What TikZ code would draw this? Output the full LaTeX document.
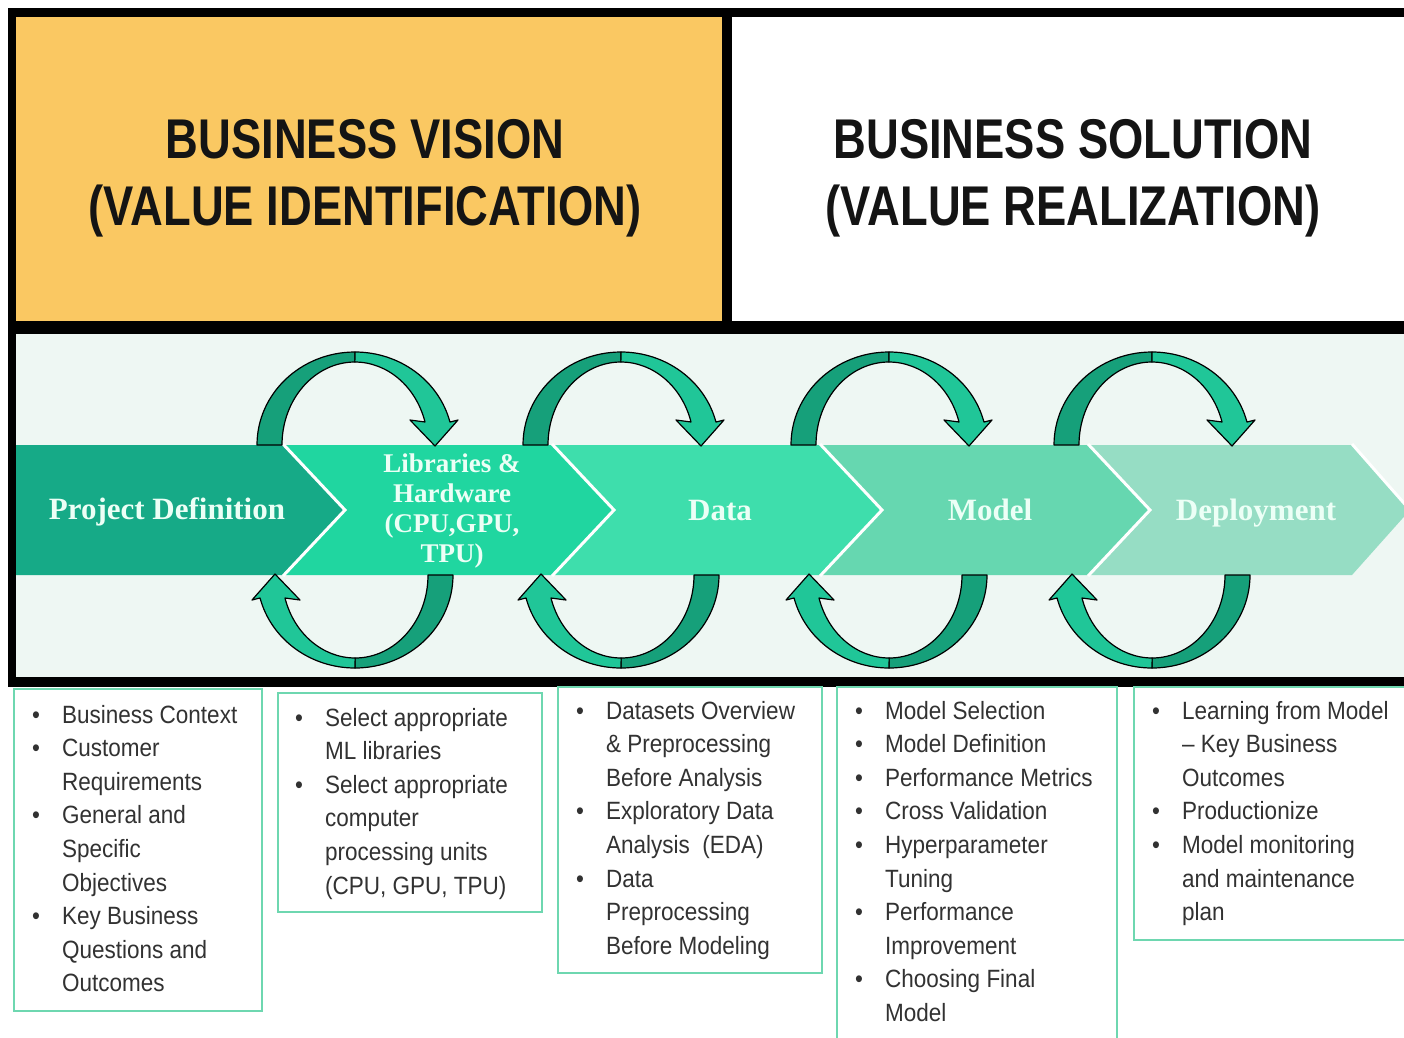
\documentclass[tikz,border=0pt]{standalone}
\usepackage{fontspec}
\setmainfont{Liberation Sans}
\newfontfamily\headfont[FakeStretch=0.81]{Liberation Sans}
\newfontfamily\chevfont{Liberation Serif}
\newfontfamily\listfont[FakeStretch=0.9]{Liberation Sans}
\usepackage{array}
\definecolor{vision}{RGB}{250,200,98}
\definecolor{band}{RGB}{238,247,243}
\definecolor{chA}{RGB}{22,170,135}
\definecolor{chB}{RGB}{32,214,160}
\definecolor{chC}{RGB}{62,222,172}
\definecolor{chD}{RGB}{102,215,176}
\definecolor{chE}{RGB}{150,221,196}
\definecolor{arrdark}{RGB}{22,160,122}
\definecolor{arrlight}{RGB}{32,198,152}
\definecolor{boxline}{RGB}{110,215,176}
\definecolor{txtgray}{RGB}{50,50,50}
\definecolor{labtxt}{RGB}{236,255,246}
\newcommand\blt{\textbullet}
\newcommand\cyclepair[1]{%
\begin{scope}[shift={(#1,0)}]
 \path[cycdark] (257,-445) arc[start angle=180,end angle=90,x radius=98,y radius=93]
   -- (355,-362) arc[start angle=90,end angle=180,x radius=73,y radius=83] -- cycle;
 \path[cyclight] (355,-352) arc[start angle=90,end angle=14.3,x radius=98,y radius=93]
   -- (458,-420) -- (435,-446) -- (410,-420) -- (425,-422)
   arc[start angle=16.1,end angle=90,x radius=73,y radius=83] -- cycle;
 \begin{scope}[rotate around={180:(355,-510)}]
 \path[cycdark] (257,-445) arc[start angle=180,end angle=90,x radius=98,y radius=93]
   -- (355,-362) arc[start angle=90,end angle=180,x radius=73,y radius=83] -- cycle;
 \path[cyclight] (355,-352) arc[start angle=90,end angle=14.3,x radius=98,y radius=93]
   -- (458,-420) -- (435,-446) -- (410,-420) -- (425,-422)
   arc[start angle=16.1,end angle=90,x radius=73,y radius=83] -- cycle;
 \end{scope}
\end{scope}}
\begin{document}
\begin{tikzpicture}[x=1pt,y=1pt,
  bar/.style={fill=black},
  cycdark/.style={fill=arrdark,draw=black,line width=1.2pt,line join=round},
  cyclight/.style={fill=arrlight,draw=black,line width=1.2pt,line join=round},
  notch/.style={draw=white,line width=3pt},
  headtxt/.style={font=\headfont\bfseries\fontsize{56}{60}\selectfont,text=black!92,anchor=base,inner sep=0},
  chevtxt/.style={font=\chevfont\bfseries\fontsize{31}{33}\selectfont,text=labtxt,anchor=base,inner sep=0},
  libtxt/.style={font=\chevfont\bfseries\fontsize{27}{30}\selectfont,text=labtxt,anchor=base,inner sep=0},
  listbox/.style={draw=boxline,line width=2pt,anchor=north west,inner sep=0},
  listtxt/.style={font=\listfont\fontsize{25}{33.6}\selectfont,text=txtgray,anchor=base west,inner sep=0}]
\useasboundingbox (0,0) rectangle (1404,-1037);
\fill[white] (0,0) rectangle (1404,-1037);
% top boxes
\fill[vision] (16,-17) rectangle (722,-321);
\fill[band] (16,-334) rectangle (1404,-677);
\fill[bar] (8,-8) rectangle (1404,-17);
\fill[bar] (8,-8) rectangle (16,-687);
\fill[bar] (722,-17) rectangle (732,-322);
\fill[bar] (8,-321) rectangle (1404,-334);
\fill[bar] (8,-677) rectangle (1404,-687);
\node[headtxt] (v1) at (365,-158) {BUSINESS VISION};
\node[headtxt] (v2) at (365,-225) {(VALUE IDENTIFICATION)};
\node[headtxt] (s1) at (1073,-158) {BUSINESS SOLUTION};
\node[headtxt] (s2) at (1073,-225) {(VALUE REALIZATION)};
% chevrons
\fill[chA] (16,-445) -- (283,-445) -- (345,-510) -- (283,-575) -- (16,-575) -- cycle;
\fill[chB] (283,-445) -- (552,-445) -- (614,-510) -- (552,-575) -- (283,-575) -- (345,-510) -- cycle;
\fill[chC] (552,-445) -- (820,-445) -- (882,-510) -- (820,-575) -- (552,-575) -- (614,-510) -- cycle;
\fill[chD] (820,-445) -- (1088,-445) -- (1150,-510) -- (1088,-575) -- (820,-575) -- (882,-510) -- cycle;
\fill[chE] (1088,-445) -- (1352,-445) -- (1410,-510) -- (1352,-575) -- (1088,-575) -- (1150,-510) -- cycle;
\draw[notch] (283,-444) -- (345,-510) -- (283,-576);
\draw[notch] (552,-444) -- (614,-510) -- (552,-576);
\draw[notch] (820,-444) -- (882,-510) -- (820,-576);
\draw[notch] (1088,-444) -- (1150,-510) -- (1088,-576);
\draw[notch] (1352,-444) -- (1410,-510);
% cycle arrows
\cyclepair{0}
\cyclepair{266}
\cyclepair{534}
\cyclepair{797}
% chevron labels
\node[chevtxt] (c1) at (167,-519) {Project Definition};
\node[libtxt] (l1) at (452,-472) {Libraries \&};
\node[libtxt] (l2) at (452,-502) {Hardware};
\node[libtxt] (l3) at (452,-532) {(CPU,GPU,};
\node[libtxt] (l4) at (452,-562) {TPU)};
\node[chevtxt] (c3) at (720,-520) {Data};
\node[chevtxt] (c4) at (990,-520) {Model};
\node[chevtxt] (c5) at (1256,-520) {Deployment};
% list boxes
\node[listbox,minimum width=248,minimum height=322] (b1) at (13,-688) {};
\node[listbox,minimum width=264,minimum height=219] (b2) at (277,-692) {};
\node[listbox,minimum width=264,minimum height=286] (b3) at (557,-686) {};
\node[listbox,minimum width=280,minimum height=370] (b4) at (836,-686) {};
\node[listbox,minimum width=290,minimum height=253] (b5) at (1133,-686) {};
\node[listtxt] (t1) at (32,-723) {\begin{tabular}[t]{@{}p{30pt}@{}l@{}}
\blt & Business Context\\
\blt & Customer\\
 & Requirements\\
\blt & General and\\
 & Specific\\
 & Objectives\\
\blt & Key Business\\
 & Questions and\\
 & Outcomes
\end{tabular}};
\node[listtxt] (t2) at (295,-726) {\begin{tabular}[t]{@{}p{30pt}@{}l@{}}
\blt & Select appropriate\\
 & ML libraries\\
\blt & Select appropriate\\
 & computer\\
 & processing units\\
 & (CPU, GPU, TPU)
\end{tabular}};
\node[listtxt] (t3) at (576,-719) {\begin{tabular}[t]{@{}p{30pt}@{}l@{}}
\blt & Datasets Overview\\
 & \& Preprocessing\\
 & Before Analysis\\
\blt & Exploratory Data\\
 & Analysis\ \ (EDA)\\
\blt & Data\\
 & Preprocessing\\
 & Before Modeling
\end{tabular}};
\node[listtxt] (t4) at (855,-719) {\begin{tabular}[t]{@{}p{30pt}@{}l@{}}
\blt & Model Selection\\
\blt & Model Definition\\
\blt & Performance Metrics\\
\blt & Cross Validation\\
\blt & Hyperparameter\\
 & Tuning\\
\blt & Performance\\
 & Improvement\\
\blt & Choosing Final\\
 & Model
\end{tabular}};
\node[listtxt] (t5) at (1152,-719) {\begin{tabular}[t]{@{}p{30pt}@{}l@{}}
\blt & Learning from Model\\
 & – Key Business\\
 & Outcomes\\
\blt & Productionize\\
\blt & Model monitoring\\
 & and maintenance\\
 & plan
\end{tabular}};
\end{tikzpicture}
\end{document}
